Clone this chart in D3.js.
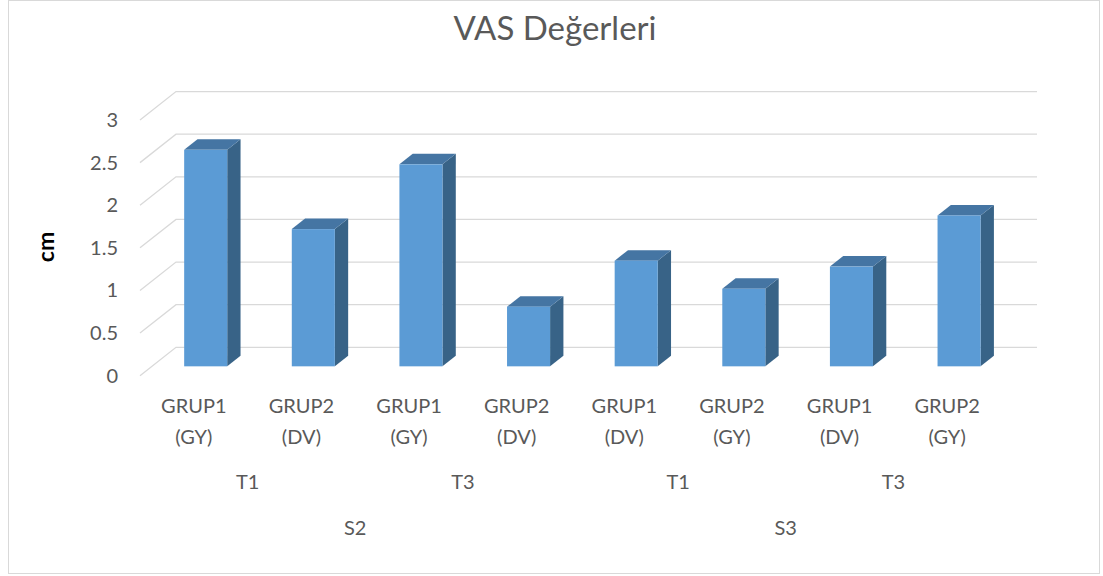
<!DOCTYPE html>
<html>
<head>
<meta charset="utf-8">
<script src="https://cdn.jsdelivr.net/npm/d3@7"></script>
<style>
  body { margin: 0; background: #fff; }
  text { font-family: Lato, "Open Sans", sans-serif; fill: #595959; }
</style>
</head>
<body>
<div id="container"></div>
<script>
const w = 1103;
const h = 576;

// chart data
const groupLabels = [["GRUP1", "(GY)"], ["GRUP2", "(DV)"], ["GRUP1", "(GY)"], ["GRUP2", "(DV)"],
                     ["GRUP1", "(DV)"], ["GRUP2", "(GY)"], ["GRUP1", "(DV)"], ["GRUP2", "(GY)"]];
const timeLabels = ["T1", "T3", "T1", "T3"];
const sessionLabels = ["S2", "S3"];
const values = [2.54, 1.61, 2.37, 0.70, 1.24, 0.91, 1.17, 1.77];
const yTicks = [0, 0.5, 1, 1.5, 2, 2.5, 3];

// oblique 3d: depth offset of the back wall
const depthX = 36;
const depthY = -28.4;
const zFront = 0.33, zBack = 0.70;   // bar depth range

const svg = d3.select("#container").append("svg")
              .attr("width", w).attr("height", h);

// chart frame
svg.append("rect")
   .attr("x", 8.5).attr("y", 0.5).attr("width", 1091).attr("height", 573)
   .attr("fill", "#fff").attr("stroke", "#d9d9d9");

svg.append("text")
   .attr("x", 555).attr("y", 40)
   .attr("text-anchor", "middle")
   .style("font-size", "33px")
   .text("VAS Değerleri");

const scaleX = d3.scaleBand()
                 .domain(d3.range(values.length))
                 .range([140, 1001])
                 .paddingInner(0.6)
                 .paddingOuter(0.3);
const scaleY = d3.scaleLinear().domain([0, 3]).range([375.7, 120]);
const step = scaleX.step();
const catStart = (i) => scaleX.range()[0] + i * step;

// gridlines: side diagonal + back wall line
const grid = svg.append("g").attr("stroke", "#d9d9d9").attr("stroke-width", 1.3).attr("fill", "none");
grid.selectAll("path").data(yTicks).enter().append("path")
    .attr("d", (d) => {
      const y = scaleY(d);
      return "M140," + y + "L" + (140 + depthX) + "," + (y + depthY) + "L" + (1001 + depthX) + "," + (y + depthY);
    });

// y tick labels
svg.append("g").selectAll("text").data(yTicks).enter().append("text")
   .attr("x", 118).attr("y", (d) => scaleY(d))
   .attr("dy", "0.35em")
   .attr("text-anchor", "end")
   .style("font-size", "20px")
   .text((d) => d);

svg.append("text")
   .attr("transform", "translate(46,247) rotate(-90)")
   .attr("text-anchor", "middle")
   .attr("dy", "0.35em")
   .style("font-size", "23px")
   .style("font-weight", "bold")
   .style("fill", "#000")
   .text("cm");

// bars
const bars = svg.append("g").selectAll("g").data(values).enter().append("g");
const fx = zFront * depthX, fy = zFront * depthY;
const bx = zBack * depthX, by = zBack * depthY;
bars.each(function(d, i) {
  const g = d3.select(this);
  const x0 = scaleX(i) + fx, x1 = x0 + scaleX.bandwidth();
  const yTop = scaleY(d) + fy, yBase = scaleY(0) + fy;
  const ox = bx - fx, oy = by - fy;
  g.append("path")
   .attr("d", `M${x1},${yTop}L${x1 + ox},${yTop + oy}L${x1 + ox},${yBase + oy}L${x1},${yBase}Z`)
   .attr("fill", "#386387");
  g.append("path")
   .attr("d", `M${x0},${yTop}L${x0 + ox},${yTop + oy}L${x1 + ox},${yTop + oy}L${x1},${yTop}Z`)
   .attr("fill", "#4575a3");
  g.append("rect")
   .attr("x", x0).attr("y", yTop)
   .attr("width", x1 - x0).attr("height", yBase - yTop)
   .attr("fill", "#5b9bd5");
});

// category labels (three levels)
const lab = svg.append("g").attr("text-anchor", "middle").style("font-size", "20px");
groupLabels.forEach((lines, i) => {
  const cx = catStart(i) + step / 2;
  lines.forEach((t, j) => {
    lab.append("text").attr("x", cx).attr("y", 406 + j * 31).attr("dy", "0.35em").text(t);
  });
});
timeLabels.forEach((t, i) => {
  lab.append("text").attr("x", catStart(i * 2) + step).attr("y", 482).attr("dy", "0.35em").text(t);
});
sessionLabels.forEach((t, i) => {
  lab.append("text").attr("x", catStart(i * 4) + step * 2).attr("y", 528).attr("dy", "0.35em").text(t);
});
</script>
</body>
</html>
